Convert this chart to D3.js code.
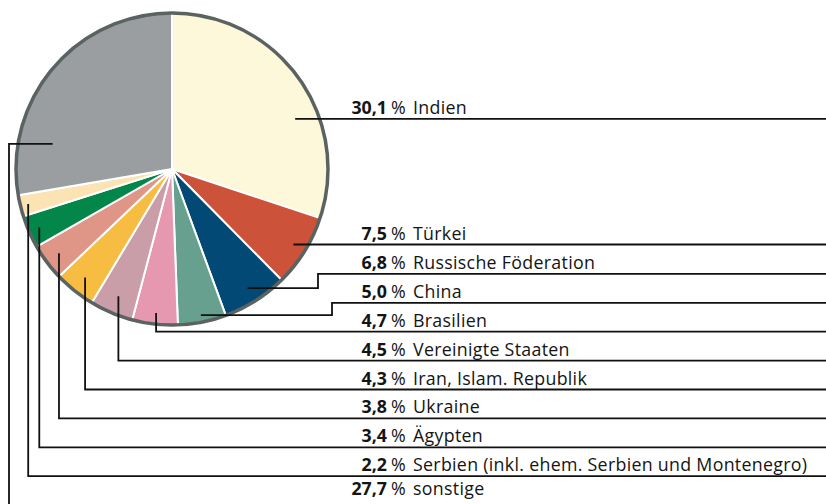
<!DOCTYPE html>
<html lang="de">
<head>
<meta charset="utf-8">
<title>Anteile nach Ländern</title>
<script src="https://cdn.jsdelivr.net/npm/d3@7"></script>
<style>
  html, body { margin: 0; padding: 0; background: #fff; }
  svg { display: block; }
  text { font-family: "Open Sans", "Noto Sans", sans-serif; font-size: 17.8px; letter-spacing: 0.3px; fill: #141414; }
  .num { font-weight: 700; letter-spacing: 0; }
</style>
</head>
<body>
<svg id="chart" width="826" height="504"></svg>
<script>
// Länderanteile in Prozent, im Uhrzeigersinn ab 12 Uhr
const countries = [
  "Indien", "Türkei", "Russische Föderation", "China", "Brasilien",
  "Vereinigte Staaten", "Iran, Islam. Republik", "Ukraine", "Ägypten",
  "Serbien (inkl. ehem. Serbien und Montenegro)", "sonstige"
];
const shares = [30.1, 7.5, 6.8, 5.0, 4.7, 4.5, 4.3, 3.8, 3.4, 2.2, 27.7];
const colors = [
  "#fdf8d9", "#cc5339", "#024a75", "#68a08f", "#e698b1",
  "#c99ea9", "#f6bd42", "#e09687", "#03864a", "#fbe3b3", "#9a9ea0"
];

// Ankerpunkte der Führungslinien: Lage im Segment (0..1) und Radius
const anchorFrac = [0.626, 0.5, 0.5, 0.5, 0.5, 0.5, 0.5, 0.5, 0.5, 0.5, 0.217];
const anchorRad  = [133, 143, 141, 149, 145, 138, 139, 141, 145, 148, 122];
// Linienführung: gerade, mit Knick, senkrecht nach unten, oder links nach unten
const routing = ["straight", "straight", "elbow", "elbow", "drop", "drop", "drop", "drop", "drop", "drop", "left"];
const elbowX  = [null, null, 318, 332, null, null, null, null, null, null, null];

const W = 826, H = 504;
const cx = 172, cy = 169, R = 156;
const rowTop = 245, rowStep = 28.9;
const numEnd = 387, pctX = 391, nameX = 413;

const svg = d3.select("#chart");
const fmt = v => d3.format(".1f")(v).replace(".", ",");

const pie = d3.pie().sort(null).value(d => d)(shares);
const arc = d3.arc().innerRadius(0).outerRadius(R);

const g = svg.append("g").attr("transform", `translate(${cx},${cy})`);
g.selectAll("path.slice")
  .data(pie)
  .join("path")
  .attr("class", "slice")
  .attr("d", arc)
  .attr("fill", (d, i) => colors[i])
  .attr("stroke", "#fff")
  .attr("stroke-width", 2)
  .attr("stroke-linejoin", "round");

g.append("circle")
  .attr("r", R)
  .attr("fill", "none")
  .attr("stroke", "#5b6362")
  .attr("stroke-width", 3.5);

// Ankerpunkt je Segment
const anchors = pie.map((d, i) => {
  const a = d.startAngle + (d.endAngle - d.startAngle) * anchorFrac[i];
  return [cx + anchorRad[i] * Math.sin(a), cy - anchorRad[i] * Math.cos(a)];
});

// Zeilenhöhe der Beschriftungen
const rowY = shares.map((v, i) => i === 0 ? anchors[0][1] : rowTop + (i - 1) * rowStep);

const leaders = shares.map((v, i) => {
  const [ax, ay] = anchors[i];
  const y = rowY[i];
  switch (routing[i]) {
    case "straight": return [[ax, ay], [W, ay]];
    case "elbow": return [[ax, ay], [elbowX[i], ay], [elbowX[i], y], [W, y]];
    case "drop": return [[ax, ay], [ax, y], [W, y]];
    default: return [[ax, ay], [9, ay], [9, H]];
  }
});

svg.append("g")
  .selectAll("path")
  .data(leaders)
  .join("path")
  .attr("d", d3.line())
  .attr("fill", "none")
  .attr("stroke", "#111")
  .attr("stroke-width", 1.8);

// Beschriftung: Wert (fett), Prozentzeichen, Land
const baseY = shares.map((v, i) => i === shares.length - 1 ? 495 : rowY[i] - 5);
const labels = svg.append("g").selectAll("g")
  .data(shares)
  .join("g");

labels.append("text")
  .attr("class", "num")
  .attr("x", numEnd)
  .attr("y", (d, i) => baseY[i])
  .attr("text-anchor", "end")
  .text(d => fmt(d));

labels.append("text")
  .attr("x", pctX)
  .attr("y", (d, i) => baseY[i])
  .text("%");

labels.append("text")
  .attr("x", nameX)
  .attr("y", (d, i) => baseY[i])
  .text((d, i) => countries[i]);
</script>
</body>
</html>
